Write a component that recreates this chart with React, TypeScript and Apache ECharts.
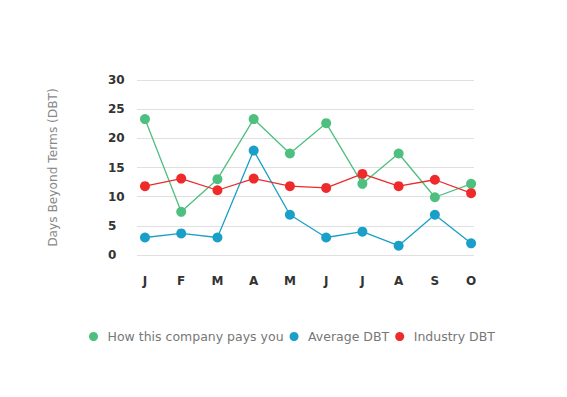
import React, { useEffect, useRef } from "react";
import * as echarts from "echarts";

const categories = ["J", "F", "M", "A", "M", "J", "J", "A", "S", "O"];
const companyPays = [23.3, 7.4, 13.0, 23.3, 17.4, 22.6, 12.2, 17.4, 9.9, 12.2];
const averageDBT = [3.0, 3.7, 3.0, 17.9, 6.9, 3.0, 4.0, 1.6, 6.9, 2.0];
const industryDBT = [11.8, 13.1, 11.1, 13.1, 11.8, 11.5, 13.9, 11.8, 12.9, 10.6];
const yTicks = [0, 5, 10, 15, 20, 25, 30];

const GREEN = "#4dbf7e";
const BLUE = "#1a9fc8";
const RED = "#ee2a2a";

const toPoints = (arr: number[]) => arr.map((v, i) => [i, v]);

export default function App() {
  const ref = useRef<HTMLDivElement>(null);
  useEffect(() => {
    document.body.style.margin = "0";
    if (!ref.current) return;
    const chart = echarts.init(ref.current, undefined, { renderer: "svg" });
    const mkSeries = (name: string, data: number[], color: string) => ({
      name,
      type: "line",
      data: toPoints(data),
      symbol: "circle",
      symbolSize: 10,
      itemStyle: { color },
      lineStyle: { color, width: 1.3 },
    });
    chart.setOption({
      animation: false,
      grid: { left: 137, right: 93, top: 80, bottom: 142 },
      legend: {
        left: 84,
        top: 325,
        icon: "circle",
        itemWidth: 18,
        itemHeight: 9,
        itemGap: 6,
        textStyle: { color: "#777", fontSize: 12.5, fontFamily: "DejaVu Sans" },
        data: ["How this company pays you", "Average DBT", "Industry DBT"],
      },
      xAxis: {
        type: "value",
        min: -0.22,
        max: 9.08,
        axisLine: { show: false },
        axisTick: { show: false },
        splitLine: { show: false },
        axisLabel: {
          customValues: categories.map((_, i) => i),
          formatter: (v: number) => categories[Math.round(v)] ?? "",
          margin: 20,
          color: "#333",
          fontWeight: "bold",
          fontSize: 12,
          fontFamily: "DejaVu Sans",
        },
      },
      yAxis: {
        type: "value",
        min: yTicks[0],
        max: yTicks[yTicks.length - 1],
        interval: 5,
        name: "Days Beyond Terms (DBT)",
        nameLocation: "middle",
        nameGap: 78,
        nameTextStyle: { color: "#888", fontSize: 12.2, fontFamily: "DejaVu Sans" },
        axisLine: { show: false },
        axisTick: { show: false },
        splitLine: { lineStyle: { color: "#e0e0e0", width: 1 } },
        axisLabel: {
          align: "left",
          margin: 29,
          color: "#333",
          fontWeight: "bold",
          fontSize: 12,
          fontFamily: "DejaVu Sans",
        },
      },
      series: [
        mkSeries("How this company pays you", companyPays, GREEN),
        mkSeries("Average DBT", averageDBT, BLUE),
        mkSeries("Industry DBT", industryDBT, RED),
      ],
    });
    return () => chart.dispose();
  }, []);
  return <div ref={ref} style={{ width: 567, height: 397 }} />;
}
